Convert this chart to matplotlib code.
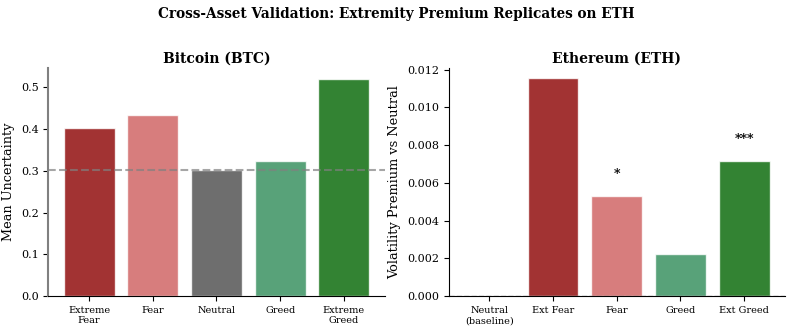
import matplotlib
matplotlib.use("Agg")
import matplotlib.pyplot as plt
import numpy as np

plt.rcParams["font.family"] = ["DejaVu Serif"]

btc_labels = ["Extreme\nFear", "Fear", "Neutral", "Greed", "Extreme\nGreed"]
btc_values = [0.403, 0.435, 0.303, 0.323, 0.521]
btc_baseline = 0.303

eth_labels = ["Neutral\n(baseline)", "Ext Fear", "Fear", "Greed", "Ext Greed"]
eth_values = [0.0, 0.01155, 0.0053, 0.00222, 0.00715]
eth_stars = ["", "", "*", "", "***"]

btc_colors = ["darkred", "indianred", "#4a4a4a", "seagreen", "darkgreen"]
eth_colors = ["#4a4a4a", "darkred", "indianred", "seagreen", "darkgreen"]

fig, (ax1, ax2) = plt.subplots(1, 2, figsize=(7.92, 3.31), dpi=100)
fig.subplots_adjust(left=0.061, right=0.991, top=0.795, bottom=0.105, wspace=0.19)

x = np.arange(len(btc_values))
ax1.bar(x, btc_values, color=btc_colors, alpha=0.8, edgecolor="white", linewidth=1)
ax1.axhline(btc_baseline, color="gray", linestyle="--", alpha=0.7, linewidth=1.5)
ax1.set_xticks(x)
ax1.set_xticklabels(btc_labels, fontsize=7)
ax1.set_ylabel("Mean Uncertainty", fontsize=9.3)
ax1.set_title("Bitcoin (BTC)", fontsize=10, fontweight="bold", pad=4)
ax1.set_ylim(0, 0.547)
ax1.tick_params(axis="y", labelsize=8)
ax1.spines["left"].set_color("gray")
ax1.spines["left"].set_linewidth(1.5)

x2 = np.arange(len(eth_values))
ax2.bar(x2, eth_values, color=eth_colors, alpha=0.8, edgecolor="white", linewidth=1)
ax2.axhline(0, color="gray", linestyle="--", alpha=0.7, linewidth=1)
for xi, v, s in zip(x2, eth_values, eth_stars):
    if s:
        ax2.text(xi, v + 0.0008, s, ha="center", va="bottom", fontsize=9, fontweight="bold")
ax2.set_xticks(x2)
ax2.set_xticklabels(eth_labels, fontsize=7)
ax2.set_ylabel("Volatility Premium vs Neutral", fontsize=9.3)
ax2.set_title("Ethereum (ETH)", fontsize=10, fontweight="bold", pad=4)
ax2.set_ylim(0, 0.0121)
ax2.tick_params(axis="y", labelsize=8)

for ax in (ax1, ax2):
    ax.spines["top"].set_visible(False)
    ax.spines["right"].set_visible(False)

fig.suptitle("Cross-Asset Validation: Extremity Premium Replicates on ETH",
             fontsize=9.8, fontweight="bold", y=0.98)

fig.savefig("out.png", dpi=100)
